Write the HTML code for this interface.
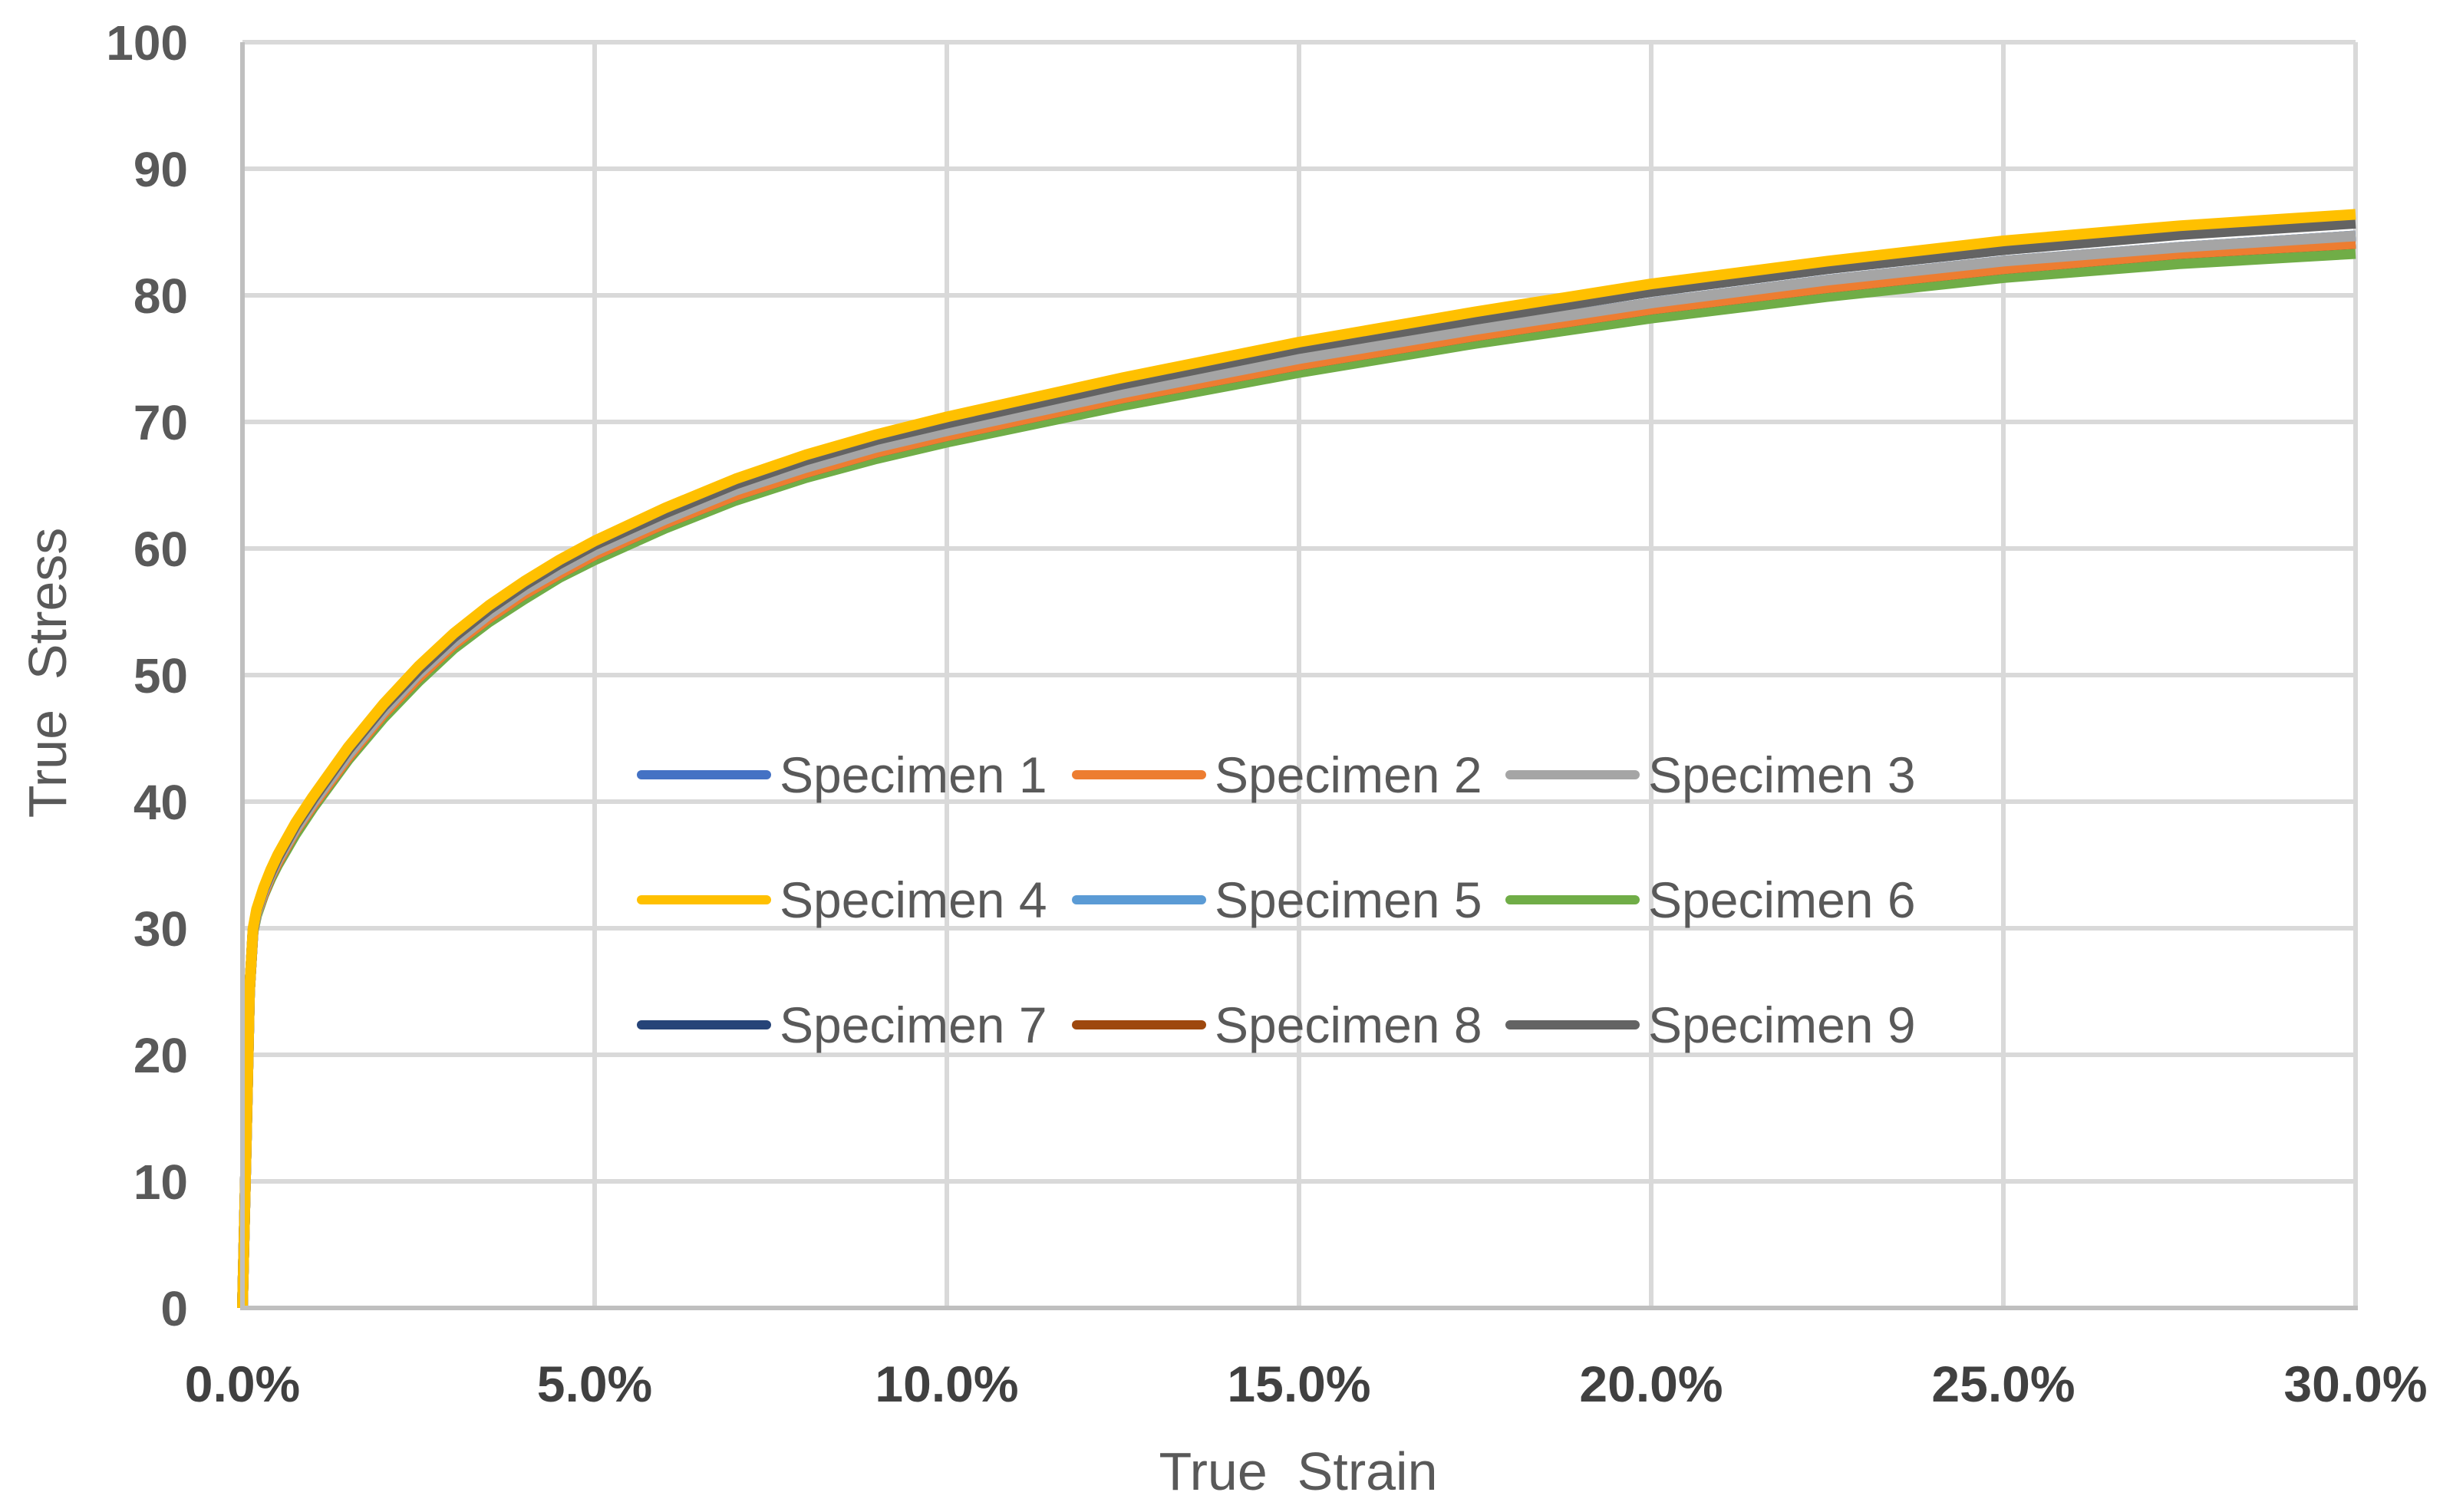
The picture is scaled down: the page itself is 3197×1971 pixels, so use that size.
<!DOCTYPE html>
<html><head><meta charset="utf-8"><style>
html,body{margin:0;padding:0;background:#fff;}
svg{display:block;font-family:"Liberation Sans",sans-serif;}
text{white-space:pre;}
</style></head><body>
<svg id="chart" width="3197" height="1971">
<g id="grid"></g>
<g id="series"></g>
<g id="axes"></g>
<g id="legend"></g>
<text x="1692" y="1942" font-size="70" fill="#595959" text-anchor="middle" xml:space="preserve">True  Strain</text>
<text x="0" y="0" font-size="70" fill="#595959" text-anchor="middle" xml:space="preserve" transform="translate(86,877) rotate(-90)">True  Stress</text>
</svg>
<script>
const strain = [0,0.0005,0.001,0.0015,0.002,0.003,0.004,0.005,0.0075,0.01,0.015,0.02,0.025,0.03,0.035,0.04,0.045,0.05,0.06,0.07,0.08,0.09,0.1,0.125,0.15,0.175,0.2,0.225,0.25,0.275,0.3];
const s1 = [0,12,25,29.8,31.2,32.9,34.2,35.4,37.8,39.9,43.7,47.1,50.1,52.6,54.8,56.7,58.3,59.8,62.3,64.6,66.4,68.0,69.3,72.3,75.0,77.3,79.4,81.2,82.7,83.8,84.7];
const s2 = [0,12,25,29.8,31.2,32.7,34.1,35.2,37.7,39.7,43.5,46.9,49.8,52.4,54.5,56.4,58.0,59.5,62.0,64.2,66.0,67.6,68.9,71.9,74.5,76.8,78.9,80.6,82.1,83.3,84.1];
const s3 = [0,12,25,29.8,31.2,32.9,34.2,35.4,37.8,39.9,43.7,47.1,50.1,52.6,54.8,56.7,58.3,59.8,62.3,64.6,66.4,68.0,69.3,72.3,75.0,77.3,79.4,81.2,82.7,83.8,84.7];
const s4 = [0,12,25,30,31.5,33.2,34.6,35.8,38.3,40.4,44.3,47.7,50.7,53.3,55.5,57.4,59.1,60.6,63.2,65.5,67.4,69.0,70.4,73.5,76.3,78.7,80.9,82.7,84.3,85.5,86.4];
const s5 = [0,12,25,29.8,31.2,32.9,34.2,35.4,37.8,39.9,43.7,47.1,50.1,52.6,54.8,56.7,58.3,59.8,62.3,64.6,66.4,68.0,69.3,72.3,75.0,77.3,79.4,81.2,82.7,83.8,84.7];
const s6 = [0,12,25,29.7,31.0,32.6,33.9,35.0,37.4,39.5,43.3,46.6,49.5,52.1,54.2,56.0,57.7,59.1,61.6,63.8,65.6,67.1,68.4,71.3,73.9,76.2,78.2,79.9,81.4,82.5,83.3];
const s7 = [0,12,25,29.8,31.2,32.7,34.1,35.2,37.7,39.7,43.5,46.9,49.8,52.4,54.5,56.4,58.0,59.5,62.0,64.2,66.0,67.6,68.9,71.9,74.5,76.8,78.9,80.6,82.1,83.3,84.1];
const s8 = [0,12,25,29.8,31.2,32.7,34.1,35.2,37.7,39.7,43.5,46.9,49.8,52.4,54.5,56.4,58.0,59.5,62.0,64.2,66.0,67.6,68.9,71.9,74.5,76.8,78.9,80.6,82.1,83.3,84.1];
const s9 = [0,12,25,29.9,31.4,33.1,34.4,35.6,38.1,40.2,44.1,47.5,50.4,53.0,55.2,57.1,58.8,60.3,62.8,65.1,67.0,68.6,69.9,73.0,75.8,78.1,80.3,82.1,83.6,84.8,85.7];
const seriesNames = ["Specimen 1","Specimen 2","Specimen 3","Specimen 4","Specimen 5","Specimen 6","Specimen 7","Specimen 8","Specimen 9"];
const seriesColors = ["#4472c4","#ed7d31","#a5a5a5","#ffc000","#5b9bd5","#70ad47","#264478","#9e480e","#636363"];
const yTicks = [0,10,20,30,40,50,60,70,80,90,100];
const xTicks = [0,0.05,0.1,0.15,0.2,0.25,0.3];
const xTickLabels = ["0.0%","5.0%","10.0%","15.0%","20.0%","25.0%","30.0%"];

const X0=316,X1=3070,Y0=1705,Y1=55;
const xs=v=>X0+(v-0)/(0.3)*(X1-X0);
const ys=v=>Y0-(v/100)*(Y0-Y1);
const NS="http://www.w3.org/2000/svg";
function mk(t,a,p){const e=document.createElementNS(NS,t);for(const k in a)e.setAttribute(k,a[k]);p.appendChild(e);return e;}
const grid=document.getElementById('grid'),axes=document.getElementById('axes'),ser=document.getElementById('series'),leg=document.getElementById('legend');
yTicks.forEach(v=>{
  if(v>0){const l=mk('line',{x1:X0,x2:X1,y1:ys(v),y2:ys(v),stroke:'#d9d9d9','stroke-width':6},grid);
  
  }
  const t=mk('text',{x:245,y:ys(v)+23,'font-size':64,'font-weight':'bold',fill:'#595959','text-anchor':'end'},axes);
  t.textContent=v;
  
  
});
xTicks.forEach((v,i)=>{
  if(i>0){const l=mk('line',{x1:xs(v),x2:xs(v),y1:Y1,y2:Y0,stroke:'#d9d9d9','stroke-width':6},grid);
  
  }
  const t=mk('text',{x:xs(v),y:1827,'font-size':66,'font-weight':'bold',fill:'#404040','text-anchor':'middle'},axes);
  t.textContent=xTickLabels[i];
  
  
});
const ax1=mk('line',{x1:X0,x2:X0,y1:Y1,y2:Y0+3,stroke:'#bfbfbf','stroke-width':6},axes);


const ax2=mk('line',{x1:X0,x2:X1+3,y1:Y0,y2:Y0,stroke:'#bfbfbf','stroke-width':6},axes);


const data=[s1,s2,s3,s4,s5,s6,s7,s8,s9];
const order=[5,6,7,4,0,1,2,8,3];
order.forEach(i=>{
  const d=strain.map((x,j)=>(j?'L':'M')+xs(x).toFixed(1)+','+ys(data[i][j]).toFixed(1)).join('');
  const p=mk('path',{d:d,fill:'none',stroke:seriesColors[i],'stroke-width':14,'stroke-linejoin':'round'},ser);
  
  
});
const colX=[836,1403,1968],rowY=[1010,1173,1336];
seriesNames.forEach((n,i)=>{
  const cx=colX[i%3],cy=rowY[Math.floor(i/3)];
  const g=mk('g',{},leg);
  
  
  mk('line',{x1:cx,x2:cx+163,y1:cy,y2:cy,stroke:seriesColors[i],'stroke-width':12,'stroke-linecap':'round'},g);
  const t=mk('text',{x:cx+180,y:cy+23,'font-size':66,fill:'#595959'},g);
  t.textContent=n;
});
</script>
</body></html>
